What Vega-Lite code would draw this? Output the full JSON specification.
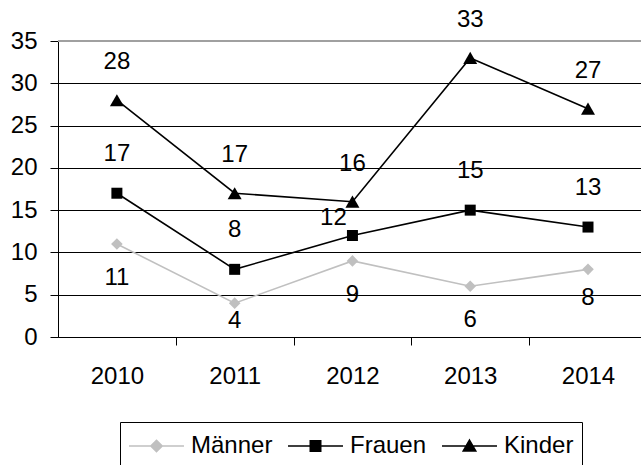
{
  "$schema": "https://vega.github.io/schema/vega-lite/v6.json",
  "width": 583,
  "height": 296,
  "autosize": "none",
  "padding": {"left": 58, "top": 41, "right": 0, "bottom": 128},
  "background": "white",
  "config": {"view": {"stroke": null}, "font": "Liberation Sans"},
  "data": {"values": [
    {"year": 2010, "series": "Männer", "value": 11},
    {"year": 2011, "series": "Männer", "value": 4},
    {"year": 2012, "series": "Männer", "value": 9},
    {"year": 2013, "series": "Männer", "value": 6},
    {"year": 2014, "series": "Männer", "value": 8},
    {"year": 2010, "series": "Frauen", "value": 17},
    {"year": 2011, "series": "Frauen", "value": 8},
    {"year": 2012, "series": "Frauen", "value": 12},
    {"year": 2013, "series": "Frauen", "value": 15},
    {"year": 2014, "series": "Frauen", "value": 13},
    {"year": 2010, "series": "Kinder", "value": 28},
    {"year": 2011, "series": "Kinder", "value": 17},
    {"year": 2012, "series": "Kinder", "value": 16},
    {"year": 2013, "series": "Kinder", "value": 33},
    {"year": 2014, "series": "Kinder", "value": 27}
  ]},
  "layer": [
    {
      "mark": {"type": "line", "strokeWidth": 1.6},
      "encoding": {
        "x": {"field": "year", "type": "quantitative",
          "scale": {"domain": [2009.5, 2014.45], "nice": false, "zero": false},
          "axis": {"title": null, "values": [2010, 2010.5, 2011, 2011.5, 2012, 2012.5, 2013, 2013.5, 2014],
            "labelExpr": "datum.value % 1 == 0 ? toString(datum.value) : ''",
            "grid": false, "tickSize": 8, "tickColor": "#000", "tickWidth": 1,
            "tickOpacity": {"condition": {"test": "datum.value % 1 == 0", "value": 0}, "value": 1},
            "domainColor": "#000", "domainWidth": 1.2,
            "labelFontSize": 24, "labelPadding": 19, "labelColor": "#000", "labelFont": "Liberation Sans",
            "labelFlush": false, "labelOverlap": false}},
        "y": {"field": "value", "type": "quantitative",
          "scale": {"domain": [0, 35], "nice": false},
          "axis": {"title": null, "values": [0, 5, 10, 15, 20, 25, 30, 35],
            "grid": true, "gridColor": "#000", "gridWidth": 1,
            "tickSize": 8, "tickColor": "#000", "domainColor": "#000",
            "labelFontSize": 24, "labelPadding": 13, "labelColor": "#000", "labelFont": "Liberation Sans"}},
        "color": {"field": "series", "type": "nominal",
          "scale": {"domain": ["Männer", "Frauen", "Kinder"], "range": ["#c0c0c0", "#000000", "#000000"]},
          "legend": {"orient": "none", "legendX": 62, "legendY": 381, "direction": "horizontal", "title": null,
            "symbolSize": 900, "symbolOffset": 12.5, "labelOffset": 18.5,
            "labelFontSize": 24, "labelColor": "#000", "labelFont": "Liberation Sans",
            "strokeColor": "#000", "padding": 8, "columnPadding": 12, "symbolStrokeWidth": 1.5,
            "encode": {"symbols": {"update": {
              "shape": {"signal": "datum.label == 'Männer' ? 'M-1.833,0H1.833M0,-0.38L0.38,0L0,0.38L-0.38,0Z' : datum.label == 'Frauen' ? 'M-1.833,0H1.833M-0.35,-0.35H0.35V0.35H-0.35Z' : 'M-1.833,0H1.833M0,-0.4L0.42,0.33L-0.42,0.33Z'"},
              "size": {"value": 900},
              "fill": {"signal": "datum.label == 'Männer' ? '#c0c0c0' : '#000000'"},
              "stroke": {"signal": "datum.label == 'Männer' ? '#c0c0c0' : '#000000'"}
            }}}}
        }
      }
    },
    {
      "mark": {"type": "rule", "color": "#a0a0a0", "strokeWidth": 1.5},
      "encoding": {"y": {"datum": 35}}
    },
    {
      "transform": [{"filter": "datum.series == 'Männer'"}],
      "mark": {"type": "point", "filled": true, "opacity": 1, "shape": "diamond", "size": 135, "color": "#c0c0c0"},
      "encoding": {"x": {"field": "year", "type": "quantitative"}, "y": {"field": "value", "type": "quantitative"}}
    },
    {
      "transform": [{"filter": "datum.series == 'Frauen'"}],
      "mark": {"type": "point", "filled": true, "opacity": 1, "shape": "square", "size": 121, "color": "#000000"},
      "encoding": {"x": {"field": "year", "type": "quantitative"}, "y": {"field": "value", "type": "quantitative"}}
    },
    {
      "transform": [{"filter": "datum.series == 'Kinder'"}],
      "mark": {"type": "point", "filled": true, "opacity": 1, "shape": "triangle-up", "size": 196, "color": "#000000"},
      "encoding": {"x": {"field": "year", "type": "quantitative"}, "y": {"field": "value", "type": "quantitative"}}
    },
    {
      "transform": [{"filter": "datum.series == 'Kinder'"}],
      "mark": {"type": "text", "fontSize": 24, "font": "Liberation Sans", "color": "#000", "baseline": "middle", "dy": -38},
      "encoding": {"x": {"field": "year", "type": "quantitative"}, "y": {"field": "value", "type": "quantitative"}, "text": {"field": "value"}}
    },
    {
      "transform": [{"filter": "datum.series == 'Frauen' && datum.year != 2012"}],
      "mark": {"type": "text", "fontSize": 24, "font": "Liberation Sans", "color": "#000", "baseline": "middle", "dy": -39},
      "encoding": {"x": {"field": "year", "type": "quantitative"}, "y": {"field": "value", "type": "quantitative"}, "text": {"field": "value"}}
    },
    {
      "transform": [{"filter": "datum.series == 'Frauen' && datum.year == 2012"}],
      "mark": {"type": "text", "fontSize": 24, "font": "Liberation Sans", "color": "#000", "baseline": "middle", "dx": -19, "dy": -18},
      "encoding": {"x": {"field": "year", "type": "quantitative"}, "y": {"field": "value", "type": "quantitative"}, "text": {"field": "value"}}
    },
    {
      "transform": [{"filter": "datum.series == 'Männer' && datum.year != 2011 && datum.year != 2014"}],
      "mark": {"type": "text", "fontSize": 24, "font": "Liberation Sans", "color": "#000", "baseline": "middle", "dy": 34},
      "encoding": {"x": {"field": "year", "type": "quantitative"}, "y": {"field": "value", "type": "quantitative"}, "text": {"field": "value"}}
    },
    {
      "transform": [{"filter": "datum.series == 'Männer' && datum.year == 2011"}],
      "mark": {"type": "text", "fontSize": 24, "font": "Liberation Sans", "color": "#000", "baseline": "middle", "dy": 18},
      "encoding": {"x": {"field": "year", "type": "quantitative"}, "y": {"field": "value", "type": "quantitative"}, "text": {"field": "value"}}
    },
    {
      "transform": [{"filter": "datum.series == 'Männer' && datum.year == 2014"}],
      "mark": {"type": "text", "fontSize": 24, "font": "Liberation Sans", "color": "#000", "baseline": "middle", "dy": 29},
      "encoding": {"x": {"field": "year", "type": "quantitative"}, "y": {"field": "value", "type": "quantitative"}, "text": {"field": "value"}}
    }
  ]
}
